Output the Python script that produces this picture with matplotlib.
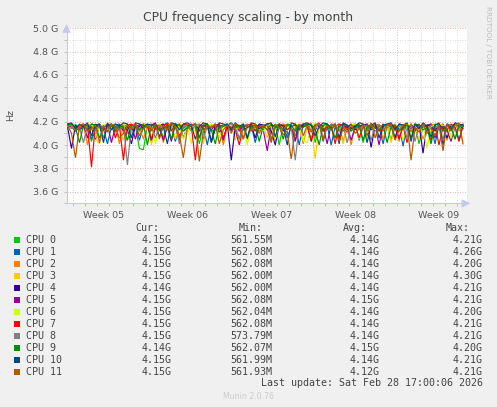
import numpy as np
import pandas as pd
import matplotlib
matplotlib.use("Agg")
import matplotlib.pyplot as plt
import matplotlib.dates as mdates
from matplotlib.ticker import MultipleLocator, FuncFormatter, NullFormatter

# ---------------- data ----------------
cpu_names = ["CPU 0", "CPU 1", "CPU 2", "CPU 3", "CPU 4", "CPU 5",
             "CPU 6", "CPU 7", "CPU 8", "CPU 9", "CPU 10", "CPU 11"]
colors = ["#00CC00", "#0066B3", "#FF8000", "#FFCC00", "#330099", "#990099",
          "#CCFF00", "#FF0000", "#808080", "#008F00", "#00487D", "#B35A00"]

cur_g = [4.15, 4.15, 4.15, 4.15, 4.14, 4.15, 4.15, 4.15, 4.15, 4.14, 4.15, 4.15]
min_m = [561.55, 562.08, 562.08, 562.00, 562.00, 562.08, 562.04, 562.08, 573.79, 562.07, 561.99, 561.93]
avg_g = [4.14, 4.14, 4.14, 4.14, 4.14, 4.15, 4.14, 4.14, 4.14, 4.15, 4.14, 4.12]
max_g = [4.21, 4.26, 4.20, 4.30, 4.21, 4.21, 4.20, 4.21, 4.21, 4.20, 4.21, 4.21]

week_labels = ["Week 05", "Week 06", "Week 07", "Week 08", "Week 09"]

# frequencies in MHz, one sample every 8 hours starting 2026-01-26 12:00
cpu0_mhz = [4170,4140,4180,4120,4150,4170,4030,4160,4170,4130,4180,4170,4110,4170,4150,4180,4140,4160,3970,3960,
            4170,4180,4130,4170,4060,4170,4180,4040,4170,4140,4170,4180,4150,4010,4160,4180,4120,4130,4160,4170,
            4180,4140,4170,4150,4060,4170,4160,4120,4180,4150,4170,4030,4180,4000,4170,4130,4170,4080,4150,4170,
            4160,4180,4020,4150,4170,4130,4160,4170,4050,4180,4170,4120,4170,4180,4020,4160,4140,4180,4150,4170,
            4160,4040,4180,4130,4170,4160,4110,4170,4010,4160,4170,4100,4150,4170,4130,4180,4170,4050,4160,4170]
cpu1_mhz = [4180,4170,4130,4170,4180,4150,4050,4160,4180,4140,4010,4160,4170,4180,4120,4170,4150,4180,4040,4160,
            4150,4170,4180,4120,4170,4190,4160,4030,4180,4150,4170,4130,4180,4170,4160,4000,4170,4180,4110,4170,
            4170,4190,4160,4050,4180,4150,4170,4020,4160,4130,4180,4160,4170,4150,4180,4060,4160,4180,4000,4170,
            4180,4140,4170,4180,4030,4170,4000,4160,4180,4120,4160,4170,4180,4040,4170,4160,4180,4130,4160,4010,
            4170,4180,4060,4170,3990,4170,4140,4180,4170,4150,4170,4160,4010,4170,4180,4120,4170,4150,4050,4160]
cpu2_mhz = [4160,4170,4130,4150,4170,4000,4160,4170,4180,4060,4160,4150,4170,4010,4180,4130,4170,4180,4150,4050,
            4160,4180,4140,4160,4020,4170,4180,4150,4060,4160,4180,4120,4160,4170,4150,4180,4030,4160,4180,4000,
            4160,4130,4180,4160,4050,4150,4180,4170,4120,4170,4180,4150,4040,4160,4180,4170,4150,4120,4160,4010,
            4170,4180,4060,4170,4150,4180,4130,4160,4170,4030,4150,4000,4170,4160,4180,4120,4150,4170,4180,4050,
            4170,4160,4180,4030,4170,4150,4120,4180,4160,4050,4150,4180,4170,4130,4170,4040,4160,4180,4120,4160]
cpu3_mhz = [4170,4180,4160,4120,4150,4180,4170,4060,4010,4170,4180,4130,4170,4150,4040,4180,4160,4170,4120,4150,
            4170,4000,4160,4180,4130,4150,4170,4050,4180,4170,4160,4120,4180,4150,4010,4170,4160,4180,4130,4160,
            4150,4170,4040,4160,4170,4180,4130,4170,4160,4180,4060,4160,4150,4170,4120,4160,4170,4150,4180,4030,
            4160,4170,3880,4180,4140,4170,4150,4180,4120,4010,4160,4170,4180,4150,4170,4060,4180,4170,4130,4170,
            4180,4020,4160,4170,4150,4130,4170,4160,4050,4180,4150,4170,4120,4180,4170,4160,4060,4170,4180,4030]
cpu4_mhz = [4160,3970,4170,4130,4160,4170,4150,4050,4170,4160,4120,4180,4150,4170,4160,4130,4010,4170,4160,4180,
            4170,4040,4150,4170,4180,4130,4170,4150,4180,4060,4160,4170,4180,4120,4170,4160,4030,4170,4160,4170,
            4180,3870,4160,4170,4130,4150,4170,4060,4180,4170,4160,4120,4000,4180,4160,4170,4150,4040,4170,4160,
            4170,4030,4180,4160,4120,4150,4170,4180,4060,4170,4150,4180,4130,4160,4170,4180,3980,4170,4120,4180,
            4150,4170,4050,4180,4170,4130,4170,4150,4180,3930,4170,4160,4120,4170,4150,4060,4160,4180,4170,4140]
cpu5_mhz = [4170,4160,4120,4150,4170,4060,4180,4170,4150,4130,4180,4020,4160,4170,4120,4150,4170,4050,4180,4170,
            4160,4130,4180,4150,4040,4160,4030,4180,4170,4120,4150,4170,4180,4060,4170,4150,4130,4170,4160,4040,
            4180,4150,4170,4120,4180,4050,4150,4170,4160,4130,3950,4170,4160,4180,4120,4170,4160,4030,4170,4160,
            4170,4180,4130,4170,4160,4010,4180,4170,4120,4150,4170,4040,4160,4170,4150,4180,4130,4160,4000,4170,
            4160,4130,4170,4050,4170,4160,4180,4120,4160,4150,4170,4180,4060,4170,4150,4130,4030,4170,4160,4180]
cpu6_mhz = [4160,4180,4130,4160,4170,4150,4180,4060,4160,4170,4130,4150,4170,4160,4180,4040,4160,4150,4120,4180,
            4160,4170,4010,4180,4150,4130,4160,4180,4170,4050,4170,4010,4180,4160,4120,4150,4180,4170,4060,4170,
            4180,4150,4130,4160,4180,4000,4170,4160,4150,4120,4170,4160,4050,4180,4150,4170,4130,4180,4170,4040,
            4020,4170,4180,4130,4150,4170,4160,4060,4170,4160,4120,4170,4180,4050,4170,4160,4180,4130,4150,4170,
            4160,4120,4170,4160,4040,4170,4180,4160,4130,4180,3970,4160,4170,4150,4120,4170,4060,4170,4180,4150]
cpu7_mhz = [4170,4160,4120,4170,4150,4170,3810,4180,4160,4130,4150,4180,4060,4160,3870,4170,4180,4150,4130,4160,
            4180,4050,4160,4150,4170,4180,4120,4170,4040,4180,4170,4160,3870,4180,4130,4160,4150,4170,4180,4060,
            4170,4150,4130,4000,4160,4170,4180,4120,4170,4160,4180,4050,4150,4160,4170,4130,4160,4170,4150,4180,
            4170,4040,4170,4180,4120,4170,4160,4010,4180,4170,4130,4150,4170,4060,4160,4170,4150,4180,4120,4160,
            4170,4180,4150,4060,4160,4020,4180,4130,4160,4170,4150,4040,4170,4000,4160,4130,4180,4150,4030,4170]
cpu8_mhz = [4180,4160,4130,4150,4020,4170,4160,4120,4170,4060,4150,4170,4180,4130,4170,3830,4160,4180,4120,4150,
            4170,4160,4060,4170,4150,4130,4170,4180,4010,4170,4160,4120,4170,4180,4050,4170,4150,4180,4130,4160,
            4170,4180,4150,4050,4160,4180,4120,4160,4150,4170,4180,4040,4170,4150,4130,4170,4160,3870,4170,4180,
            4160,4130,4150,4180,4060,4160,4170,4180,4120,4170,4020,4160,4170,4130,4150,4170,4040,4180,4170,4160,
            4150,4170,4120,4160,4170,4060,4180,4030,4170,4160,4130,4170,4150,4170,4050,4180,4170,4120,4150,4170]
cpu9_mhz = [4170,4180,4150,4020,4170,4130,4180,4170,4060,4150,4170,4180,4120,4170,4150,4040,4170,4160,4130,4180,
            4000,4170,4160,4130,4150,4170,4050,4180,4170,4120,4150,4170,4180,4060,4170,4180,4130,4010,4170,4160,
            4180,4120,4160,4150,4170,4060,4160,4170,4030,4160,4130,4180,4150,4170,4050,4180,4170,4120,4170,4150,
            4180,4170,4130,4000,4170,4180,4150,4060,4160,4180,4170,4120,4150,4170,4040,4160,4170,4150,4130,4170,
            4020,4160,4170,4120,4150,4170,4060,4180,4170,4130,4150,4010,4180,4170,4120,4170,4150,4050,4170,4160]
cpu10_mhz = [4180,4190,4140,4180,4160,4190,4080,4170,4180,4020,4190,4130,4180,4160,4190,4180,4060,4190,4180,4140,
             4180,4170,4190,4070,4160,4010,4190,4180,4130,4180,4190,4170,4050,4160,4190,4180,4020,4140,4190,4180,
             4170,4130,4190,4160,4180,4060,4190,4180,4140,4160,4180,4190,4070,4180,4160,4000,4190,4180,4130,4180,
             4190,4170,4080,4160,4190,4180,4130,4180,4010,4190,4170,4140,4160,4190,4180,4020,4170,4190,4060,4170,
             4180,4190,4130,4180,4170,4190,4030,4180,4140,4190,4160,4070,4170,4190,4000,4180,4130,4190,4180,4170]
cpu11_mhz = [4170,4100,3890,4170,4180,4120,4140,4170,4020,4170,4110,4180,4150,4060,4100,4170,4130,4180,4080,4140,
             4170,4120,4180,4050,4170,4130,4190,4150,4090,3890,4140,4170,4180,3860,4110,4170,4150,4180,4010,4130,
             4170,4100,4190,4140,4050,4170,4120,4180,4100,4170,4130,4020,4180,4150,4090,4120,3880,4140,4180,4080,
             4170,4110,4170,4190,4040,4170,4130,4180,4030,4150,4110,4180,4100,4140,4170,4080,4190,4060,4170,4120,
             4170,4180,4040,4130,4170,4180,3870,4150,4110,4180,4100,4150,4080,4170,3950,4180,4120,4170,4190,4010]

series_mhz = [cpu0_mhz, cpu1_mhz, cpu2_mhz, cpu3_mhz, cpu4_mhz, cpu5_mhz,
              cpu6_mhz, cpu7_mhz, cpu8_mhz, cpu9_mhz, cpu10_mhz, cpu11_mhz]

times = pd.date_range("2026-01-26 12:00", periods=len(cpu0_mhz), freq="8h")
x_start = pd.Timestamp("2026-01-26 10:00")
x_end = pd.Timestamp("2026-02-28 20:00")

# ---------------- figure ----------------
W, H = 497, 407
BG = "#F0F0F0"
fig = plt.figure(figsize=(W / 100, H / 100), dpi=100, facecolor=BG)

def fx(x):
    return x / W

def fy(y):
    return 1 - y / H

L, R, T, B = 66.5, 467.0, 28.3, 203.4
ax = fig.add_axes([fx(L), fy(B), fx(R - L), (B - T) / H])
ax.set_facecolor("white")

for vals, col in zip(series_mhz, colors):
    ax.plot(times, np.array(vals) / 1000.0, color=col, lw=0.85, solid_joinstyle="miter", zorder=3)

ax.set_xlim(x_start, x_end)
ax.set_ylim(3.5, 5.0)

MAJ = "#ECBABA"
MIN = "#DCDCDC"
AXC = "#C4C8F2"
TXT = "#555555"

ax.yaxis.set_major_locator(MultipleLocator(0.2))
ax.yaxis.set_minor_locator(MultipleLocator(0.1))
ax.yaxis.set_major_formatter(FuncFormatter(lambda v, p: f"{v:.1f} G"))
ax.xaxis.set_major_locator(mdates.WeekdayLocator(byweekday=mdates.MO))
ax.xaxis.set_minor_locator(mdates.DayLocator())
ax.xaxis.set_major_formatter(NullFormatter())

ax.grid(which="major", axis="both", color=MAJ, ls=(0, (1, 1.5)), lw=0.72, zorder=1)
ax.grid(which="minor", axis="both", color=MIN, ls=(0, (1, 1.5)), lw=0.72, zorder=0)
ax.set_axisbelow(True)

ax.tick_params(axis="y", which="both", length=2, width=0.7, color="#C0C0C0",
               labelsize=6.8, labelcolor=TXT, pad=4)
ax.tick_params(axis="x", which="both", length=2, width=0.7, color="#C0C0C0", pad=2)
ax.tick_params(axis="x", which="major", color=MAJ)

for s in ["top", "right"]:
    ax.spines[s].set_visible(False)
for s in ["left", "bottom"]:
    ax.spines[s].set_color(AXC)
    ax.spines[s].set_linewidth(0.8)

# axis arrows
ax.annotate("", xy=(0, 1.04), xytext=(0, 0.99), xycoords="axes fraction",
            arrowprops=dict(arrowstyle="-|>,head_length=0.5,head_width=0.25", color=AXC, lw=0.8))
ax.annotate("", xy=(1.015, 0), xytext=(0.995, 0), xycoords="axes fraction",
            arrowprops=dict(arrowstyle="-|>,head_length=0.5,head_width=0.25", color=AXC, lw=0.8))

# week labels at mid-week
mondays = pd.date_range("2026-01-26", periods=len(week_labels), freq="W-MON")
for m, lab in zip(mondays, week_labels):
    ax.text(m + pd.Timedelta(hours=84), -0.045, lab, transform=ax.get_xaxis_transform(),
            ha="center", va="top", fontsize=6.8, color=TXT)

# title / labels
fig.text(fx(248), fy(18), "CPU frequency scaling - by month", ha="center", va="center",
         fontsize=8.9, color="#444444")
fig.text(fx(11), fy(115), "Hz", rotation=90, ha="center", va="center", fontsize=6.8, color=TXT)
fig.text(fx(488), fy(6), "RRDTOOL / TOBI OETIKER", rotation=270, ha="center", va="top",
         fontsize=5.2, color="#BBBBBB")

# legend
MONO = "DejaVu Sans Mono"
LFS = 7.2
LC = "#444444"
hy = 227.7
col_right = [172, 272, 379.5, 483]
head_right = [159.5, 262.5, 366.5, 470]
for hx, h in zip(head_right, ["Cur:", "Min:", "Avg:", "Max:"]):
    fig.text(fx(hx), fy(hy), h, ha="right", va="center", family=MONO, fontsize=LFS, color=LC)

for k, name in enumerate(cpu_names):
    y = 239.7 + 12 * k
    fig.patches.append(plt.Rectangle((fx(14), fy(y + 3)), fx(6), 6 / H, transform=fig.transFigure,
                                     facecolor=colors[k], edgecolor="none"))
    fig.text(fx(26.3), fy(y), name, ha="left", va="center", family=MONO, fontsize=LFS, color=LC)
    cells = [f"{cur_g[k]:.2f}G", f"{min_m[k]:.2f}M", f"{avg_g[k]:.2f}G", f"{max_g[k]:.2f}G"]
    for xr, c in zip(col_right, cells):
        fig.text(fx(xr), fy(y), c, ha="right", va="center", family=MONO, fontsize=LFS, color=LC)

fig.text(fx(483), fy(383.5), "Last update: Sat Feb 28 17:00:06 2026", ha="right", va="center",
         family=MONO, fontsize=LFS, color=LC)
fig.text(fx(248), fy(396.5), "Munin 2.0.76", ha="center", va="center", fontsize=5.6, color="#CCCCCC")

fig.savefig("out.png", dpi=100, facecolor=BG)
